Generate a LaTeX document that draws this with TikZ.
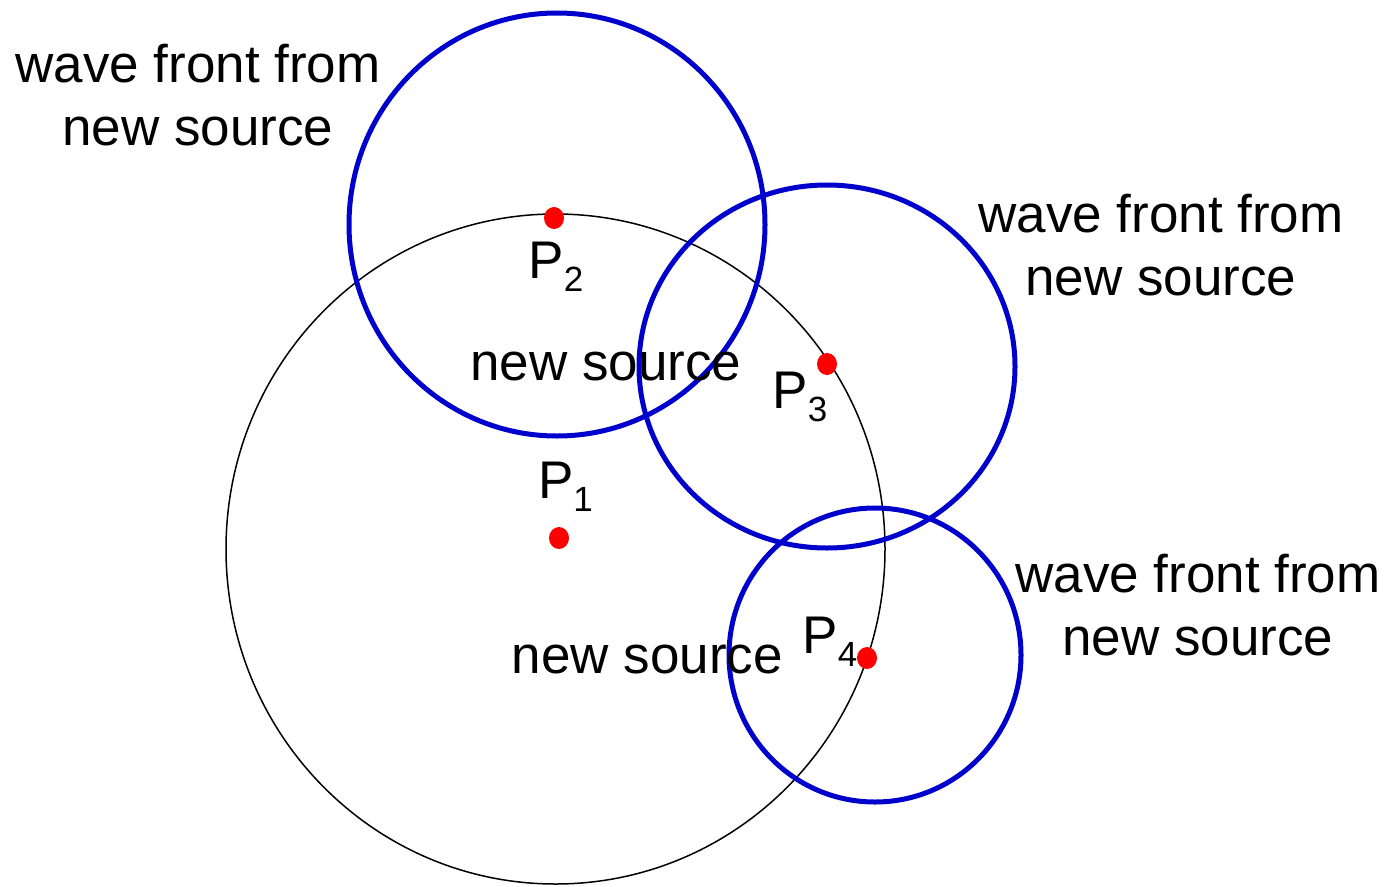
\documentclass[tikz,border=0pt]{standalone}
\usepackage{fontspec}
\setmainfont{Liberation Sans}
\definecolor{wavblue}{RGB}{0,0,204}
\newcommand{\Plab}[1]{P\raisebox{-13.5pt}{\fontsize{35}{40}\selectfont #1}}
\begin{document}
\begin{tikzpicture}[x=1pt,y=-1pt,
  lbl/.style={font=\fontsize{53}{63}\selectfont, inner sep=0pt, anchor=base, align=center},
  front/.style={draw=wavblue, line width=5pt},
  base circle/.style={draw=black, line width=1.5pt},
  dot/.style={fill=red}]
\useasboundingbox (0,0) rectangle (1391,886);
% main wave front
\draw[base circle] (555.5,549) ellipse [x radius=329.5, y radius=335];
% secondary wave fronts
\draw[front] (557,224.5) ellipse [x radius=208, y radius=211.5];
\draw[front] (827,366.5) ellipse [x radius=188, y radius=181.5];
\draw[front] (875,655) ellipse [x radius=146, y radius=147];
% source points
\fill[dot] (554,218) ellipse [x radius=10, y radius=11];
\fill[dot] (559,538) ellipse [x radius=10, y radius=11];
\fill[dot] (827,364) ellipse [x radius=10, y radius=11];
\fill[dot] (867,658) ellipse [x radius=10, y radius=11];
% labels (base = baseline of last line)
\node[lbl] (t1) at (198,145) {wave front from\\new source};
\node[lbl] (t2) at (1161,295) {wave front from\\new source};
\node[lbl] (t3) at (1198,655) {wave front from\\new source};
\node[lbl] (ns1) at (606,380) {new source};
\node[lbl] (ns2) at (647.5,673) {new source};
\node[lbl] (p2) at (556,278) {\Plab{2}};
\node[lbl] (p1) at (565.5,498) {\Plab{1}};
\node[lbl] (p3) at (800,408) {\Plab{3}};
\node[lbl] (p4) at (830,653) {\Plab{4}};
\end{tikzpicture}
\end{document}
